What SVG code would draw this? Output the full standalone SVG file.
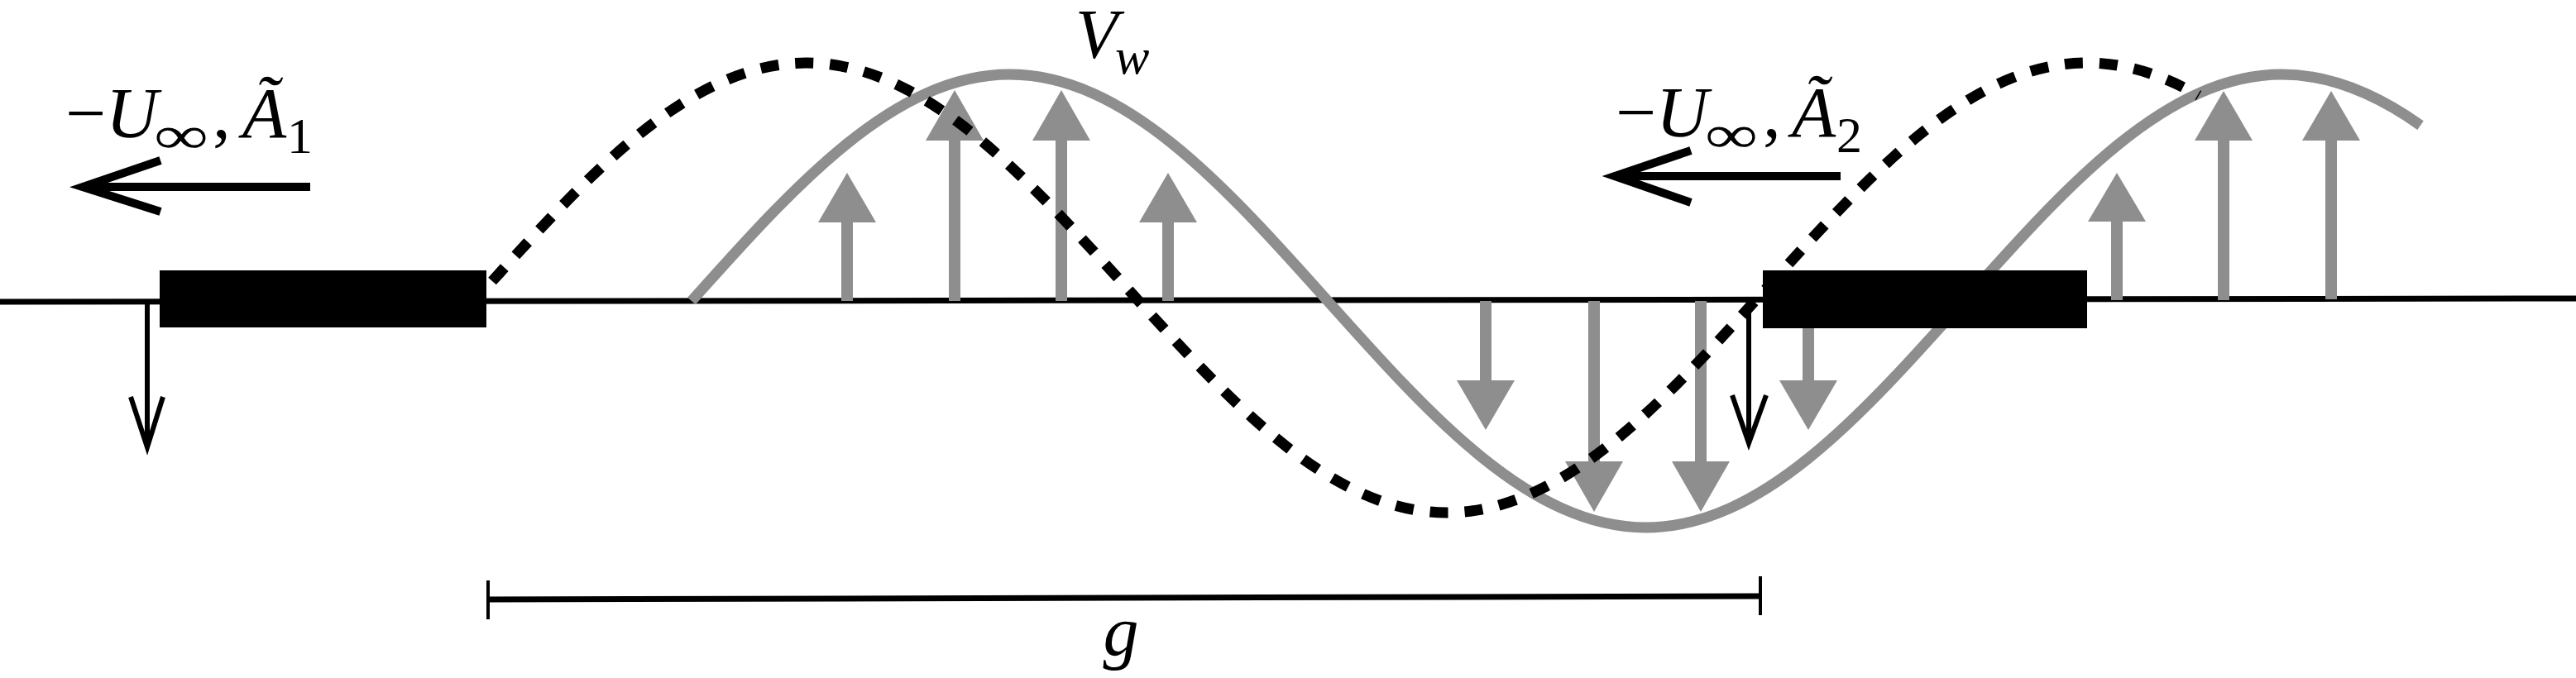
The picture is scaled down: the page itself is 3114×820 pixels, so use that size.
<svg xmlns="http://www.w3.org/2000/svg" width="3114" height="820" viewBox="0 0 3114 820">
<style>
.base{stroke:#000;stroke-width:7;fill:none}
.plate{fill:#000}
.wave{stroke:#8e8e8e;stroke-width:13;fill:none}
.dot{stroke:#000;stroke-width:13;fill:none;stroke-dasharray:22 20}
.gshaft{stroke:#8e8e8e;stroke-width:14}
.ghead{fill:#8e8e8e}
.karrow{stroke:#000;stroke-width:6;fill:none}
.flow{stroke:#000;stroke-width:10;fill:none}
.t{font-family:'Liberation Serif','Times New Roman',serif;fill:#000}
.i{font-style:italic}
</style>
<rect width="3114" height="820" fill="#fff"/>
<g id="baseline"><line class="base" x1="0" y1="365" x2="3114" y2="361"/></g>
<g id="velocity-wave">
<path class="wave" d="M836,364 C961.4,223.6 1081.4,90 1220.5,90 C1359.7,90 1479.6,223.6 1605,364 C1730.4,504.4 1850.4,638 1989.5,638 C2128.7,638 2248.6,504.4 2374,364 C2499.4,223.6 2619.4,90 2758.5,90 C2814.3,90 2870.2,112.1 2926,151.6"/>
</g>
<g id="wall-arrows">
<line class="gshaft" x1="1024" y1="364" x2="1024" y2="266"/><path class="ghead" d="M989,269 L1024,209 L1059,269 Z"/>
<line class="gshaft" x1="1154" y1="364" x2="1154" y2="167"/><path class="ghead" d="M1119,170 L1154,109 L1189,170 Z"/>
<line class="gshaft" x1="1283" y1="364" x2="1283" y2="167"/><path class="ghead" d="M1248,170 L1283,109 L1318,170 Z"/>
<line class="gshaft" x1="1412" y1="364" x2="1412" y2="266"/><path class="ghead" d="M1377,269 L1412,209 L1447,269 Z"/>
<line class="gshaft" x1="1796" y1="364" x2="1796" y2="463"/><path class="ghead" d="M1761,460 L1796,520 L1831,460 Z"/>
<line class="gshaft" x1="1927" y1="364" x2="1927" y2="561"/><path class="ghead" d="M1892,558 L1927,619 L1962,558 Z"/>
<line class="gshaft" x1="2056" y1="364" x2="2056" y2="561"/><path class="ghead" d="M2021,558 L2056,619 L2091,558 Z"/>
<line class="gshaft" x1="2186" y1="364" x2="2186" y2="463"/><path class="ghead" d="M2151,460 L2186,520 L2221,460 Z"/>
<line class="gshaft" x1="2559" y1="363" x2="2559" y2="265"/><path class="ghead" d="M2524,268 L2559,209 L2594,268 Z"/>
<line class="gshaft" x1="2688" y1="363" x2="2688" y2="167"/><path class="ghead" d="M2653,170 L2688,110 L2723,170 Z"/>
<line class="gshaft" x1="2818" y1="362" x2="2818" y2="167"/><path class="ghead" d="M2783,170 L2818,110 L2853,170 Z"/>
</g>
<g id="wake-wave">
<path class="dot" d="M595,340 C714.2,208.7 834.9,76 975,76 C1115.1,76 1235.8,208.7 1362,348 C1488.2,487.3 1608.9,620 1749,620 C1889.1,620 2009.8,487.3 2136,348 C2262.2,208.7 2382.9,76 2523,76 C2568,76 2613,89.8 2658,115.7"/>
</g>
<g id="plate-1"><rect class="plate" x="193" y="327" width="395" height="69"/></g>
<g id="plate-2"><rect class="plate" x="2131" y="327" width="392" height="70"/></g>
<g id="edge-arrows">
<path class="karrow" d="M178,364 L178,538 M158,480 L178,541 L197,480"/>
<path class="karrow" d="M2114,364 L2114,533 M2094,478 L2114,536 L2135,478"/>
</g>
<g id="flow-arrow-1"><path class="flow" d="M375,226 L100,226 M194,194 L100,226 L194,256"/></g>
<g id="flow-arrow-2"><path class="flow" d="M2225,213 L1952,213 M2044,182 L1952,213 L2044,245"/></g>
<g id="label-1" font-family="Liberation Serif, serif">
<text class="t" x="79" y="166" font-size="87">−<tspan class="i">U</tspan></text>
<text class="t" x="186" y="185" font-size="64" textLength="66" lengthAdjust="spacingAndGlyphs">∞</text>
<text class="t" x="257" y="166" font-size="87">,</text>
<text class="t i" x="293" y="166" font-size="87">Ã</text>
<text class="t" x="347" y="185" font-size="62">1</text>
</g>
<g id="label-2" font-family="Liberation Serif, serif">
<text class="t" x="1953" y="165" font-size="87">−<tspan class="i">U</tspan></text>
<text class="t" x="2061" y="184" font-size="64" textLength="64" lengthAdjust="spacingAndGlyphs">∞</text>
<text class="t" x="2131" y="165" font-size="87">,</text>
<text class="t i" x="2166" y="165" font-size="87">Ã</text>
<text class="t" x="2220" y="184" font-size="62">2</text>
</g>
<g id="label-vw" font-family="Liberation Serif, serif">
<text class="t i" x="1300" y="70" font-size="84">V</text>
<text class="t i" x="1348" y="89" font-size="62">w</text>
</g>
<g id="gap-dimension" font-family="Liberation Serif, serif">
<line class="base" x1="590" y1="725" x2="2128" y2="721"/>
<line stroke="#000" stroke-width="4" x1="590" y1="702" x2="590" y2="749"/>
<line stroke="#000" stroke-width="4" x1="2128" y1="697" x2="2128" y2="744"/>
<text class="t i" x="1355" y="792" font-size="86" text-anchor="middle">g</text>
</g>
</svg>
